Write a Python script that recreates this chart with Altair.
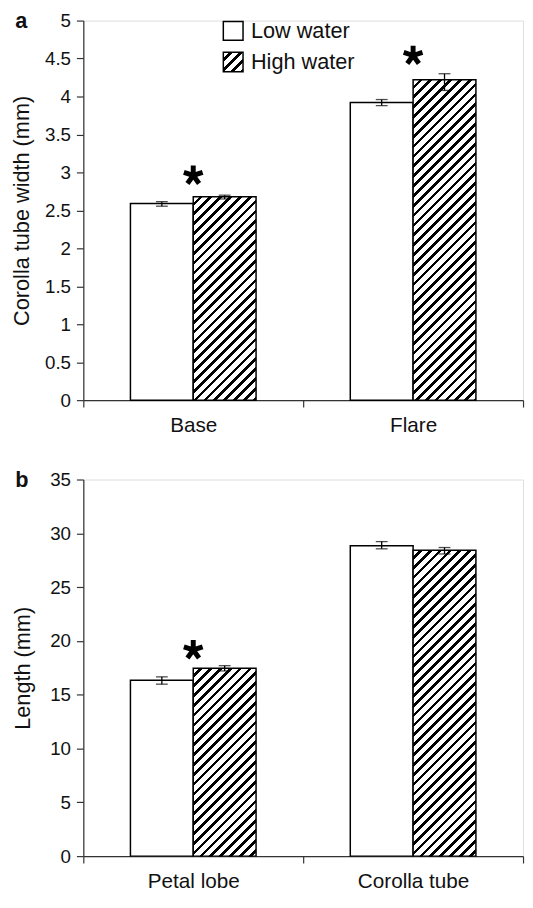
import altair as alt
import pandas as pd

# ---------------- data ----------------
groups = ["Low water", "High water"]

cats_a = ["Base", "Flare"]
mean_a_low = [2.59, 3.92]
mean_a_high = [2.68, 4.22]
lo_a_low = [2.555, 3.88]
hi_a_low = [2.615, 3.96]
lo_a_high = [2.65, 4.08]
hi_a_high = [2.70, 4.30]
star_a_cats = ["Base", "Flare"]
star_a = [2.96, 4.54]
ticks_a = [0, 0.5, 1, 1.5, 2, 2.5, 3, 3.5, 4, 4.5, 5]

cats_b = ["Petal lobe", "Corolla tube"]
mean_b_low = [16.35, 28.85]
mean_b_high = [17.45, 28.43]
lo_b_low = [15.98, 28.56]
hi_b_low = [16.66, 29.23]
lo_b_high = [17.21, 28.08]
hi_b_high = [17.70, 28.68]
star_b_cats = ["Petal lobe"]
star_b = [19.16]
ticks_b = [0, 5, 10, 15, 20, 25, 30, 35]

# ---------------- sizes / styles ----------------
W = 446
HA, HB = 385, 382
PAD_OUT = 0.75
BAR_W = (W / 2) / (2 + 2 * PAD_OUT)
FONT = "Liberation Sans"
INK = "#111111"
STAR_PATH = ("M0,0L0,-1M0,0L0.951,-0.309M0,0L0.588,0.809"
             "M0,0L-0.588,0.809M0,0L-0.951,-0.309")


def hatch(w, h, period=10.0, black=0.38):
    total = w + h
    s = total * w / (w * w + h * h)
    n = total / period
    p = 1.0 / n
    stops = []
    k = 0
    while k * p < 1:
        a = round(k * p, 5)
        b = round(min(k * p + (1 - black) * p, 1), 5)
        c = round(min((k + 1) * p, 1), 5)
        stops += [alt.GradientStop(offset=a, color="white"),
                  alt.GradientStop(offset=b, color="white"),
                  alt.GradientStop(offset=b, color="black"),
                  alt.GradientStop(offset=c, color="black")]
        k += 1
    return alt.LinearGradient(gradient="linear", stops=stops,
                              x1=0, y1=0, x2=round(s, 5), y2=round(s * h / w, 5))


def make_df(cats, ml, mh, ll, hl, lh, hh):
    rows = []
    for i, c in enumerate(cats):
        rows.append(dict(cat=c, group=groups[0], mean=ml[i], lo=ll[i], hi=hl[i]))
        rows.append(dict(cat=c, group=groups[1], mean=mh[i], lo=lh[i], hi=hh[i]))
    return pd.DataFrame(rows)


def panel(df, cats, stars_df, ymax, height, ticks, ytitle, letter, title_x, legend=False):
    x_axis = alt.Axis(title=None, labelAngle=0, tickBand="extent", tickSize=7,
                      labelPadding=8, labelFontSize=21, labelFont=FONT,
                      labelColor=INK, domainColor="#333", tickColor="#333",
                      domainWidth=1.2, tickWidth=1.2, grid=False,
                      labelOverlap=False)
    y_axis = alt.Axis(title=ytitle, values=ticks, format="~g", tickSize=7,
                      labelPadding=6, labelFontSize=19, labelFont=FONT,
                      labelColor=INK, titleFontSize=22, titleFont=FONT,
                      titleFontWeight="normal", titleColor=INK,
                      titleX=title_x, titleBaseline="middle",
                      domainColor="#333", tickColor="#333",
                      domainWidth=1.2, tickWidth=1.2, grid=False,
                      labelOverlap=False, labelFlush=False)
    yscale = alt.Scale(domain=[0, ymax], nice=False, zero=True)
    x = alt.X("cat:N", sort=cats, scale=alt.Scale(paddingInner=0, paddingOuter=0),
              axis=x_axis)
    xo = alt.XOffset("group:N", sort=groups,
                     scale=alt.Scale(paddingOuter=PAD_OUT, paddingInner=0))

    def Y(field):
        return alt.Y(field, scale=yscale, axis=y_axis)

    base = alt.Chart(df)
    layers = []
    low = base.transform_filter(alt.datum.group == groups[0]).mark_bar(
        fill="white", stroke="black", strokeWidth=1.5).encode(x=x, xOffset=xo, y=Y("mean:Q"))
    layers.append(low)
    for i, c in enumerate(cats):
        v = df[(df.cat == c) & (df.group == groups[1])]["mean"].iloc[0]
        h = v * height / ymax
        hb = base.transform_filter(
            (alt.datum.group == groups[1]) & (alt.datum.cat == c)
        ).mark_bar(fill=hatch(BAR_W, h), stroke="black", strokeWidth=1.5).encode(
            x=x, xOffset=xo, y=Y("mean:Q"))
        layers.append(hb)
    rule = base.mark_rule(color="black", strokeWidth=1.3).encode(
        x=x, xOffset=xo, y=Y("lo:Q"), y2="hi:Q")
    cap_lo = base.mark_tick(color="black", thickness=1.3, size=12).encode(
        x=x, xOffset=xo, y=Y("lo:Q"))
    cap_hi = base.mark_tick(color="black", thickness=1.3, size=12).encode(
        x=x, xOffset=xo, y=Y("hi:Q"))
    layers += [rule, cap_lo, cap_hi]
    star = alt.Chart(stars_df).mark_point(
        shape=STAR_PATH, size=400, filled=False, color="black",
        strokeWidth=5, strokeCap="butt", opacity=1).encode(
        x=x, y=Y("star:Q"))
    layers.append(star)
    one = pd.DataFrame({"k": [0]})
    lg = alt.Chart(one)
    layers.append(lg.mark_text(align="left", baseline="alphabetic", fontSize=22,
                               fontWeight="bold", font=FONT, color=INK).encode(
        x=alt.value(-69), y=alt.value(7.5), text=alt.value(letter)))
    if legend:
        layers.append(lg.mark_rect(fill="white", stroke="black", strokeWidth=1.5).encode(
            x=alt.value(142), x2=alt.value(162), y=alt.value(1), y2=alt.value(20)))
        layers.append(lg.mark_rect(fill=hatch(20, 20), stroke="black", strokeWidth=1.5).encode(
            x=alt.value(142), x2=alt.value(162), y=alt.value(32), y2=alt.value(52)))
        layers.append(lg.mark_text(align="left", baseline="middle", fontSize=22,
                                   font=FONT, color=INK).encode(
            x=alt.value(170), y=alt.value(11), text=alt.value(groups[0])))
        layers.append(lg.mark_text(align="left", baseline="middle", fontSize=22,
                                   font=FONT, color=INK).encode(
            x=alt.value(170), y=alt.value(42.5), text=alt.value(groups[1])))
    return alt.layer(*layers).properties(width=W, height=height)


df_a = make_df(cats_a, mean_a_low, mean_a_high, lo_a_low, hi_a_low, lo_a_high, hi_a_high)
df_b = make_df(cats_b, mean_b_low, mean_b_high, lo_b_low, hi_b_low, lo_b_high, hi_b_high)
stars_a_df = pd.DataFrame({"cat": star_a_cats, "star": star_a})
stars_b_df = pd.DataFrame({"cat": star_b_cats, "star": star_b})

pa = panel(df_a, cats_a, stars_a_df, 5, HA, ticks_a, "Corolla tube width (mm)", "a", -63, legend=True)
pb = panel(df_b, cats_b, stars_b_df, 35, HB, ticks_b, "Length (mm)", "b", -62)

chart = alt.vconcat(pa, pb, spacing=32.5).properties(
    padding={"left": 1.4, "top": -4.6, "right": 0, "bottom": 0}
).configure_view(stroke=None).configure(background="white")

chart.save("out.html", embed_options={"renderer": "svg", "actions": False})
